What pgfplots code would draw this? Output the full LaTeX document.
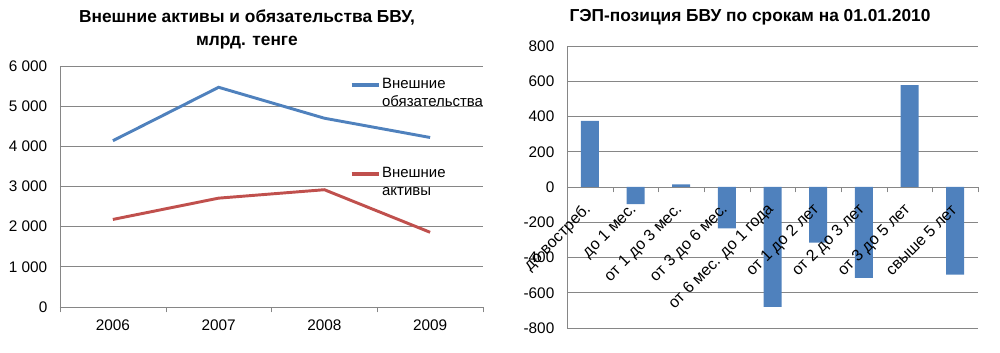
\documentclass[border=0pt]{standalone}
\usepackage{pgfplots}
\pgfplotsset{compat=1.18}
\usepackage{fontspec}
\setmainfont{Liberation Sans}
\definecolor{xlblue}{HTML}{4F81BD}
\definecolor{xlred}{HTML}{C0504D}
\definecolor{xlgrid}{HTML}{868686}
\pgfplotsset{
  gapaxis/.style={
    at={(425.25pt,18.75pt)}, anchor=south west, scale only axis,
    width=308.25pt, height=211.5pt,
    xmin=0.5, xmax=9.5, ymin=-800, ymax=800,
    axis x line=middle, axis y line=left,
    axis line style={-, xlgrid},
    hide obscured x ticks=false, hide obscured y ticks=false,
    xtick={1,...,9},
    major tick length=0pt, minor tick length=4pt,
    tick align=outside,
    tick label style={font=\fontsize{11.5}{13}\selectfont},
    yticklabel style={xshift=-6pt},
    xticklabel style={yshift=-15pt, xshift=-1pt, rotate=45, anchor=east, inner sep=0pt, font=\fontsize{12}{13}\selectfont},
  },
}
\begin{document}
\begin{tikzpicture}
\useasboundingbox (0,0) rectangle (750pt,264.75pt);
\node[font=\bfseries\fontsize{13}{17.5}\selectfont, align=center] at (185.25pt,242.5pt) {Внешние активы и обязательства БВУ,\\млрд. тенге};
\node[font=\bfseries\fontsize{13}{17}\selectfont] at (562.5pt,252pt) {ГЭП-позиция БВУ по срокам на 01.01.2010};
\begin{axis}[
  at={(45pt,34.5pt)}, anchor=south west, scale only axis,
  width=317.25pt, height=180.75pt,
  xmin=0.5, xmax=4.5, ymin=0, ymax=6000,
  axis x line=bottom, axis y line=left,
  axis line style={-, xlgrid},
  xtick={1,2,3,4}, xticklabels={2006,2007,2008,2009},
  minor xtick={0.5,1.5,2.5,3.5,4.5},
  ytick={0,1000,2000,3000,4000,5000,6000},
  yticklabels={0,1 000,2 000,3 000,4 000,5 000,6 000},
  major tick length=0pt, minor tick length=4pt,
  tick align=outside,
  minor tick style={xlgrid},
  ymajorgrids, grid style={xlgrid, line width=0.6pt},
  tick label style={font=\fontsize{11.5}{13}\selectfont},
  yticklabel style={xshift=-6pt},
  xticklabel style={yshift=-6pt},
  legend style={draw=none, fill=none, at={(0.675,0.965)}, anchor=north west,
    row sep=42pt, font=\fontsize{11.2}{13.5}\selectfont, nodes={align=left, inner sep=1pt}},
  legend cell align=left,
  legend image code/.code={\draw[#1, line width=2.8pt] (0cm,6.5pt) -- (0.72cm,6.5pt);},
]
\addplot[xlblue, line width=2.2pt] coordinates {(1,4140) (2,5470) (3,4700) (4,4220)};
\addlegendentry{Внешние\\обязательства}
\addplot[xlred, line width=2.2pt] coordinates {(1,2180) (2,2710) (3,2920) (4,1860)};
\addlegendentry{Внешние\\активы}
\end{axis}
\begin{axis}[
  gapaxis,
  xticklabels={},
  minor xtick={0.5,1.5,...,9.5},
  minor tick style={xlgrid},
  ytick={-800,-600,-400,-200,0,200,400,600,800},
  yticklabels={-800,-600,-400,-200,0,200,400,600,800},
  ymajorgrids, grid style={xlgrid, line width=0.6pt},
]
\addplot[ybar, bar width=13.5pt, fill=xlblue, draw=none] coordinates {(1,375) (2,-97) (3,15) (4,-235) (5,-680) (6,-315) (7,-515) (8,578) (9,-497)};
\end{axis}
\begin{axis}[
  gapaxis,
  axis line style={draw=none},
  ytick=\empty,
  xticklabels={до востреб.,до 1 мес.,от 1 до 3 мес.,от 3 до 6 мес.,от 6 мес. до 1 года,от 1 до 2 лет,от 2  до 3 лет,от 3 до 5 лет,свыше 5 лет},
]
\addplot[draw=none, forget plot] coordinates {(1,0) (9,0)};
\end{axis}
\end{tikzpicture}
\end{document}
